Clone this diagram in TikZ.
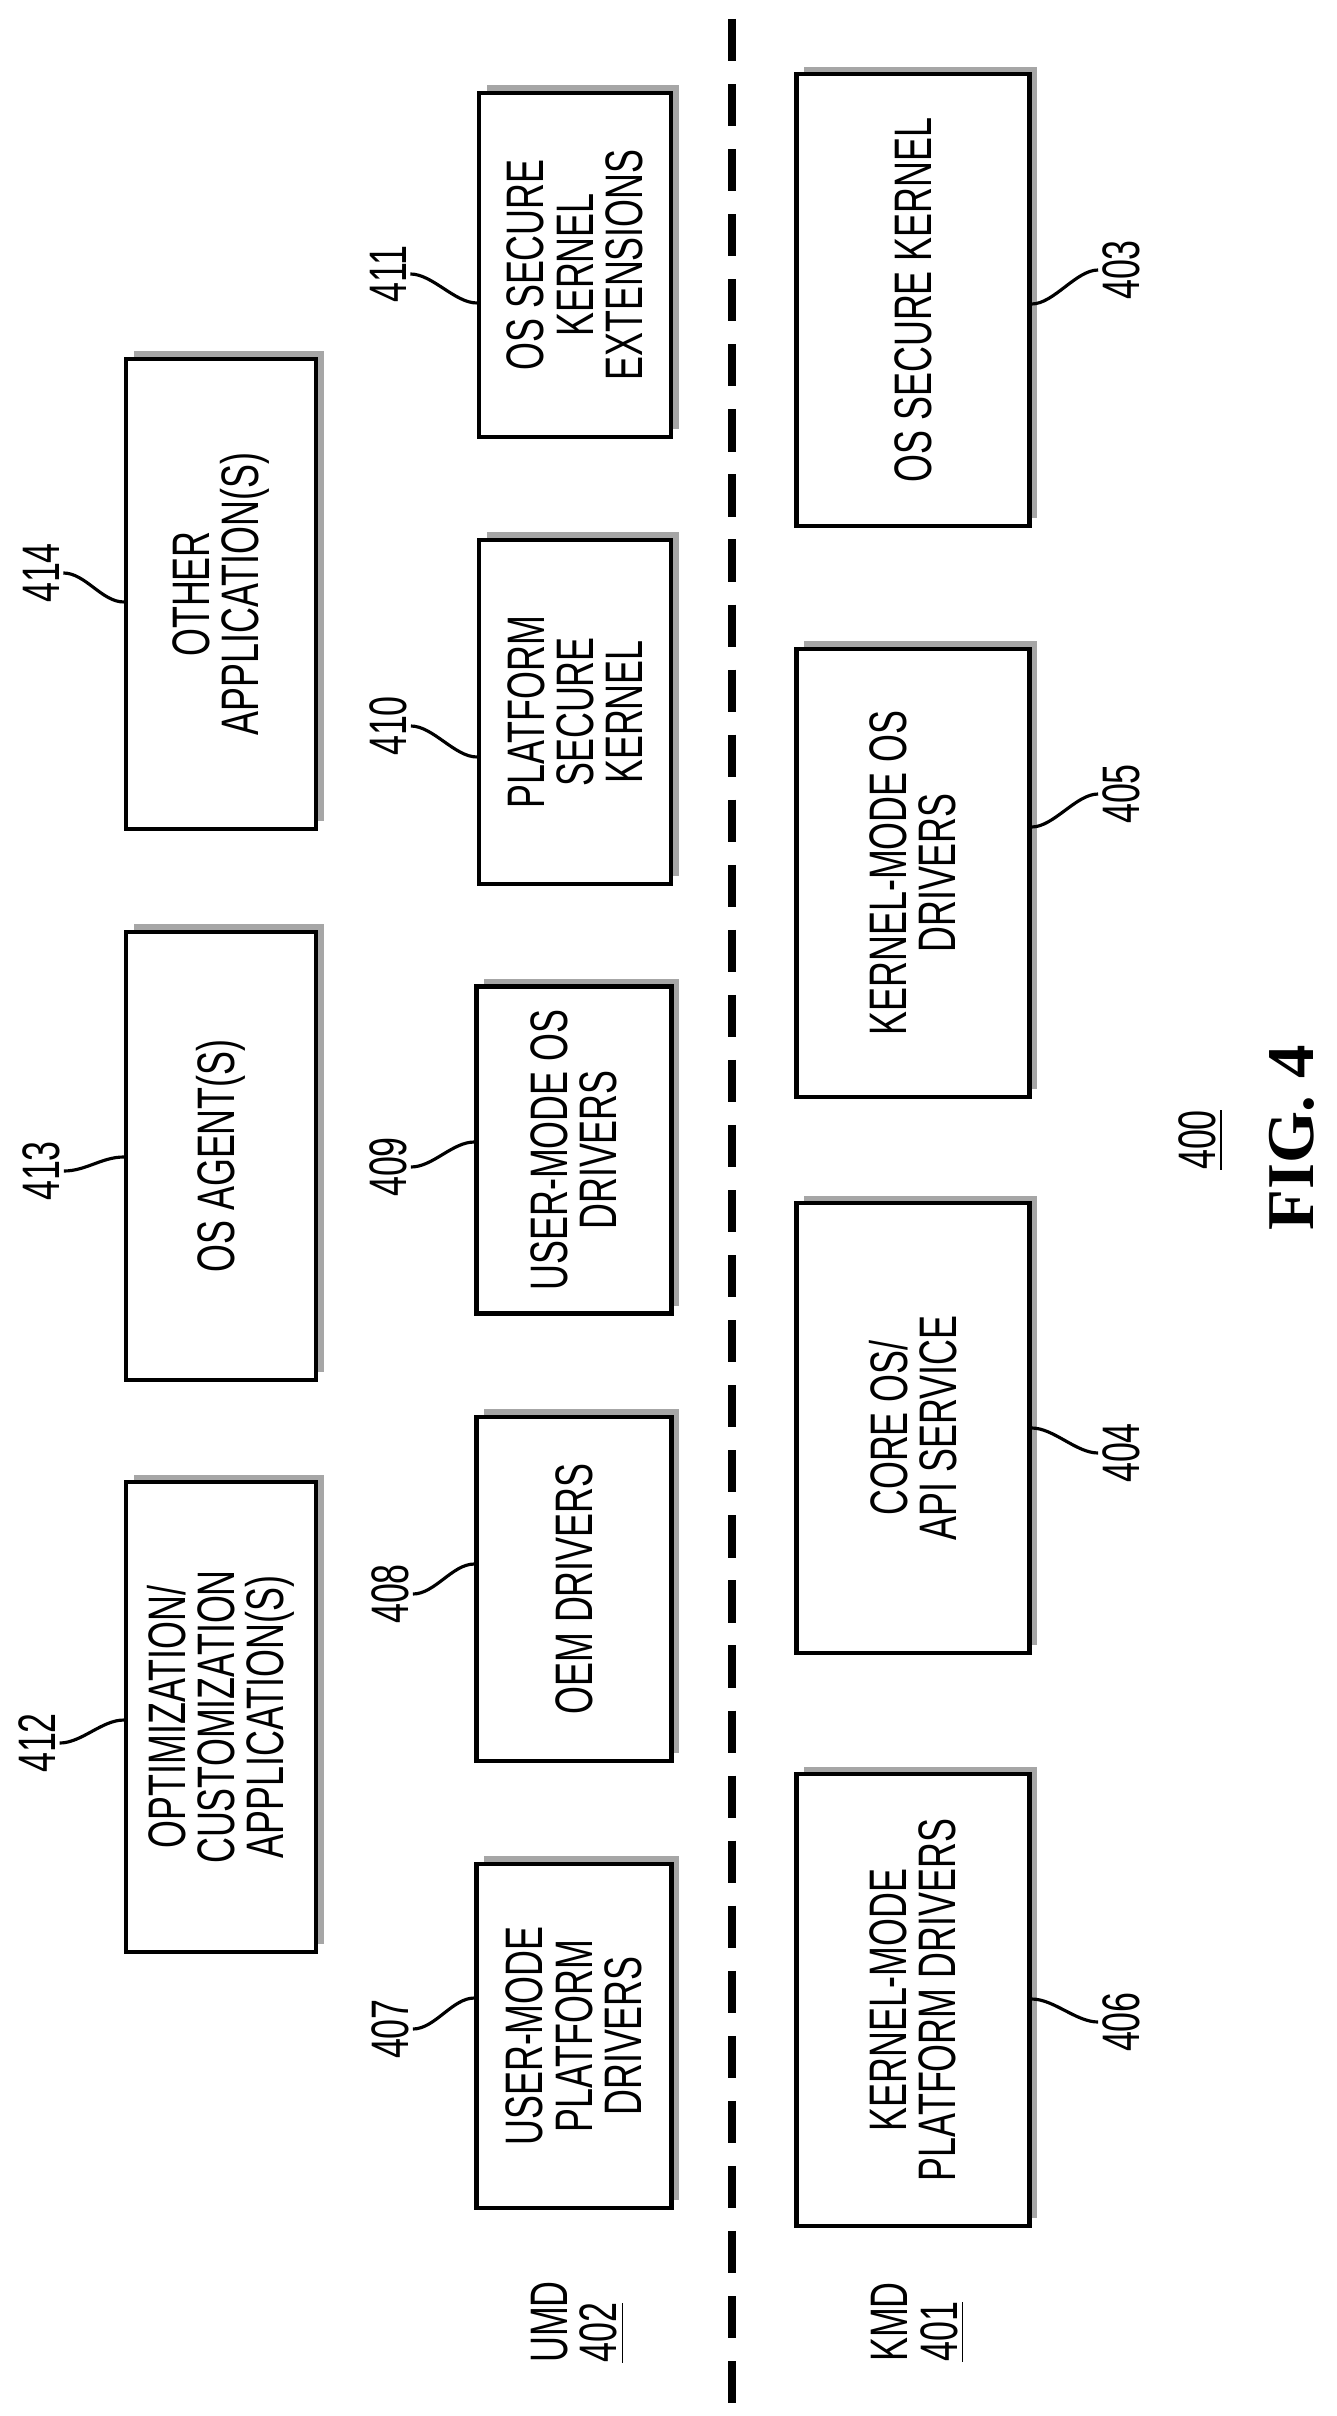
\documentclass[tikz,border=0pt]{standalone}
\usepackage{fontspec}
\setmainfont{Liberation Sans}[FakeStretch=0.68]
\newfontfamily\figfont{Liberation Serif}
\usetikzlibrary{shadows,calc}
\begin{document}
\begin{tikzpicture}
[
  x=0.01cm, y=-0.01cm,
	box/.style={draw,thick,line width=1.2pt,fill=white,rotate=90,align=center,inner sep=0pt,
	  general shadow={fill=gray!70,shadow xshift=2.2pt,shadow yshift=2.2pt}},
	ref/.style={rotate=90,inner sep=1pt},
	lead/.style={line width=0.9pt}
]
\tikzstyle{every node}=[font=\fontsize{15}{14}\selectfont]

\useasboundingbox (0,0) rectangle (1337,2416);

% divider
\coordinate (top) at (732,19);
\coordinate (bot) at (732,2413);
\draw[line width=2.2pt,dash pattern=on 12pt off 6.5pt] (top) -- (bot);

% applications
\node[box,minimum width=4.7cm,minimum height=1.9cm] (n414) at (221,594) {OTHER\\APPLICATION(S)};
\node[box,minimum width=4.48cm,minimum height=1.9cm] (n413) at (221,1156) {OS AGENT(S)};
\node[box,minimum width=4.69cm,minimum height=1.9cm] (n412) at (221,1717) {OPTIMIZATION/\\CUSTOMIZATION\\APPLICATION(S)};

% user mode
\node[box,minimum width=3.44cm,minimum height=1.92cm] (n411) at (575,265) {OS SECURE\\KERNEL\\EXTENSIONS};
\node[box,minimum width=3.44cm,minimum height=1.92cm] (n410) at (575,712) {PLATFORM\\SECURE\\KERNEL};
\node[box,minimum width=3.27cm,minimum height=1.95cm] (n409) at (574,1150) {USER-MODE OS\\DRIVERS};
\node[box,minimum width=3.44cm,minimum height=1.95cm] (n408) at (574,1589) {OEM DRIVERS};
\node[box,minimum width=3.44cm,minimum height=1.95cm] (n407) at (574,2036) {USER-MODE\\PLATFORM\\DRIVERS};

% kernel mode
\node[box,minimum width=4.51cm,minimum height=2.33cm] (n403) at (913,300) {OS SECURE KERNEL};
\node[box,minimum width=4.48cm,minimum height=2.33cm] (n405) at (913,873) {KERNEL-MODE OS\\DRIVERS};
\node[box,minimum width=4.49cm,minimum height=2.33cm] (n404) at (913,1428) {CORE OS/\\API SERVICE};
\node[box,minimum width=4.51cm,minimum height=2.33cm] (n406) at (913,2000) {KERNEL-MODE\\PLATFORM DRIVERS};

% reference numerals
\node[ref] (l414) at (41,573) {414};
\node[ref] (l413) at (41,1171) {413};
\node[ref] (l412) at (37,1743) {412};
\node[ref] (l411) at (388,274) {411};
\node[ref] (l410) at (388,726) {410};
\node[ref] (l409) at (388,1167) {409};
\node[ref] (l408) at (390,1594) {408};
\node[ref] (l407) at (390,2029) {407};
\node[ref] (l403) at (1121,270) {403};
\node[ref] (l405) at (1121,794) {405};
\node[ref] (l404) at (1121,1453) {404};
\node[ref] (l406) at (1121,2022) {406};

\foreach \n/\j in {414/602,413/1157,412/1720,411/303,410/757,409/1142,408/1564,407/1998}
  \draw[lead] (l\n.south) .. controls +(22,0) and +(-22,0) .. (n\n.north |- 0,\j);
\foreach \n/\j in {403/304,405/827,404/1428,406/1999}
  \draw[lead] (n\n.south |- 0,\j) .. controls +(22,0) and +(-22,0) .. (l\n.north);

% domains
\node[ref,align=left] (umd) at (578,2322) {UMD\\\underline{402}};
\node[ref,align=left] (kmd) at (918,2322) {KMD\\\underline{401}};

% figure label
\node[ref] (fig) at (1201,1140) {\underline{400}};
\node[rotate=90,font=\figfont\bfseries\fontsize{19}{22}\selectfont] (figno) at (1292,1138) {FIG. 4};

\end{tikzpicture}
\end{document}
